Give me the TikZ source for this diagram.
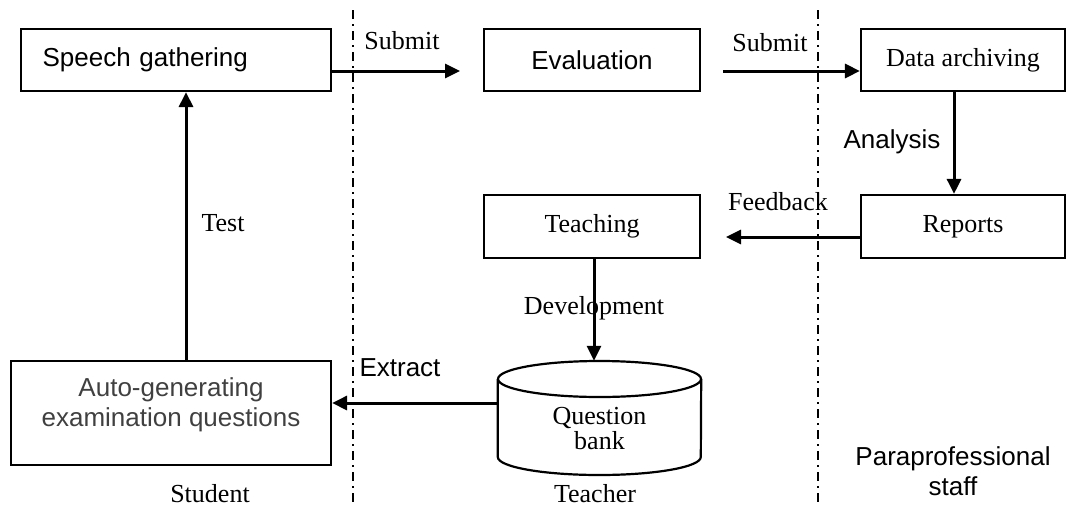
\documentclass[tikz,border=0pt]{standalone}
\usepackage{fontspec}
\setmainfont{Liberation Serif}
\setsansfont{Liberation Sans}
\usetikzlibrary{arrows.meta}

\begin{document}
\begin{tikzpicture}[x=1pt,y=-1pt,
  every node/.style={font=\fontsize{26}{30}\selectfont},
  sans/.style={font=\sffamily\fontsize{26}{30}\selectfont},
  box/.style={draw,line width=2.2pt,inner sep=0pt},
  cyl/.style={line width=2.2pt},
  arr/.style={line width=3pt,-{Triangle[length=15pt,width=14pt]}},
  lane/.style={line width=1.6pt,dash pattern=on 9pt off 5pt on 2pt off 5pt}]
\useasboundingbox (0,0) rectangle (1067,506);

% Lane dividers
\draw[lane] (353,10) -- (353,506);
\draw[lane] (818,10) -- (818,506);

% Boxes
\node[box,sans,minimum width=310pt,minimum height=62pt,text width=266pt,align=left] (speech) at (175.6,60) {Speech gathering};
\node[box,sans,minimum width=216pt,minimum height=62pt] (eval) at (592,60) {Evaluation};
\node[box,minimum width=204pt,minimum height=62pt] (archive) at (963,60) {Data archiving};
\node[box,minimum width=216pt,minimum height=63pt] (teach) at (592,226.5) {Teaching};
\node[box,minimum width=204pt,minimum height=63pt] (report) at (963,226.5) {Reports};
\node[box,minimum width=320pt,minimum height=104pt] (autogen) at (171,413) {};
\node[sans,text=black!75,align=center] (autogentext) at (171,404.5) {Auto-generating\\examination questions};

% Question bank (cylinder)
\node[minimum width=203pt,minimum height=114pt,inner sep=0pt] (qbank) at (599.5,418) {};
\draw[cyl] ([yshift=39pt]qbank.center) ellipse [x radius=101.5pt,y radius=18pt];
\draw[cyl] ([yshift=39pt]qbank.west) -- ([yshift=-39pt]qbank.west)
  arc[start angle=180,end angle=360,x radius=101.5pt,y radius=18pt] -- ([yshift=39pt]qbank.east);
\node[align=center,font=\fontsize{26}{25}\selectfont] (qbanktext) at (599.5,428.5) {Question\\bank};

% Free ends
\coordinate (sub1end) at (460,71);
\coordinate (sub2start) at (723,71);
\coordinate (fbend) at (726,237);

% Labels
\node[anchor=base] (submita) at (402,49) {Submit};
\node[anchor=base] (submitb) at (770,51) {Submit};
\node[anchor=base] (test) at (223,231) {Test};
\node[sans,anchor=base] (analysis) at (892,148) {Analysis};
\node[anchor=base] (feedback) at (778,210) {Feedback};
\node[anchor=base] (develop) at (594,314) {Development};
\node[sans,anchor=base] (extract) at (400,376) {Extract};
\node[anchor=base] (student) at (210,502) {Student};
\node[anchor=base] (teacher) at (595,502) {Teacher};
\node[sans,align=center] (staff) at (953,471) {Paraprofessional\\staff};

% Flow
\draw[arr] ([yshift=-11pt]speech.east) -- (sub1end);
\draw[arr] (sub2start) -- (sub2start -| archive.west);
\draw[arr] ([xshift=-9pt]archive.south) -- ([xshift=-9pt]report.north);
\draw[arr] ([yshift=-10.5pt]report.west) -- (fbend);
\draw[arr] ([xshift=2pt]teach.south) -- ([xshift=2pt]teach.south |- qbank.north);
\draw[arr] ([yshift=10pt]autogen.east -| qbank.west) -- ([yshift=10pt]autogen.east);
\draw[arr] ([xshift=15pt]autogen.north) -- ([xshift=15pt]autogen.north |- speech.south);
\end{tikzpicture}
\end{document}
